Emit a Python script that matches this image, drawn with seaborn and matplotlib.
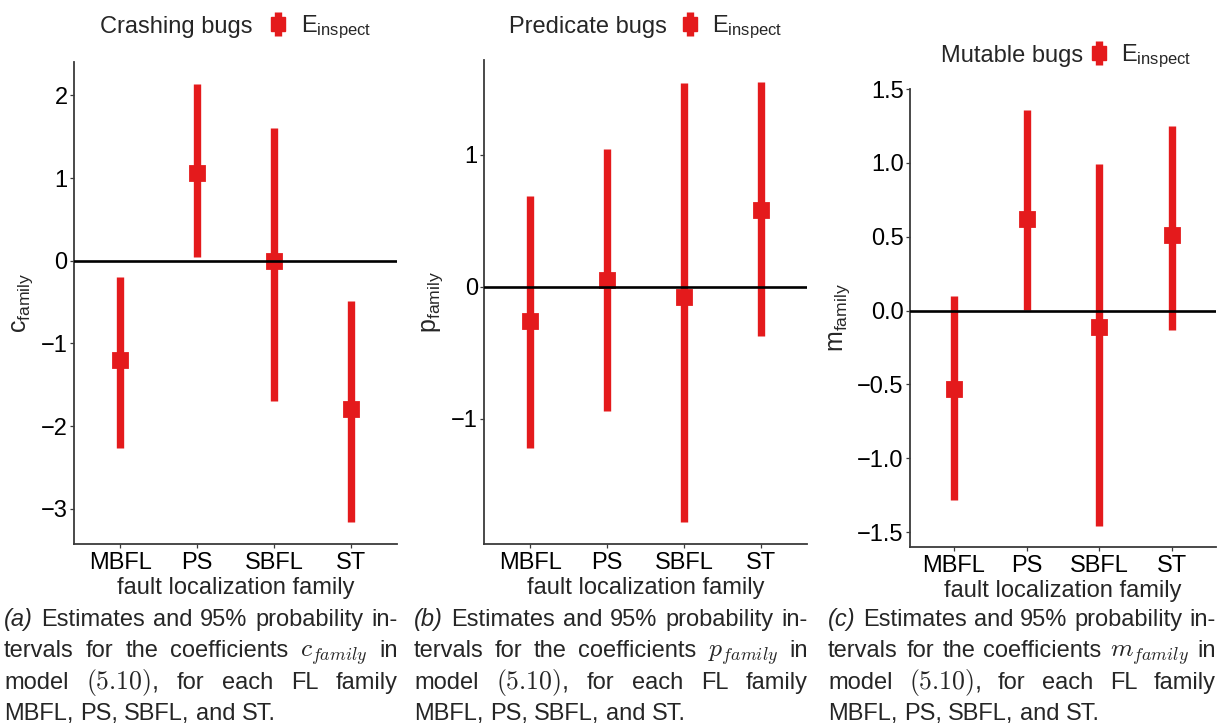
import matplotlib
matplotlib.use("Agg")
import matplotlib.pyplot as plt
import seaborn as sns
import pandas as pd
from matplotlib.lines import Line2D
from matplotlib.legend_handler import HandlerTuple

families = ["MBFL", "PS", "SBFL", "ST"]

# estimates and 95% probability intervals
crash_est = [-1.20, 1.06, 0.00, -1.79]
crash_lo = [-2.26, 0.04, -1.69, -3.16]
crash_hi = [-0.20, 2.14, 1.60, -0.49]

pred_est = [-0.26, 0.055, -0.08, 0.58]
pred_lo = [-1.22, -0.94, -1.78, -0.37]
pred_hi = [0.69, 1.04, 1.54, 1.55]

mut_est = [-0.53, 0.62, -0.11, 0.515]
mut_lo = [-1.28, 0.005, -1.46, -0.13]
mut_hi = [0.10, 1.36, 0.99, 1.25]

RED = "#E41A1C"
FS = 17

sns.set_style("white")
plt.rcParams["font.family"] = ["Liberation Sans", "DejaVu Sans"]
plt.rcParams["mathtext.fontset"] = "custom"
plt.rcParams["mathtext.rm"] = "Liberation Sans"
plt.rcParams["mathtext.it"] = "Liberation Sans:italic"

fig = plt.figure(figsize=(12.19, 7.26), dpi=100)

panels = [
    dict(est=crash_est, lo=crash_lo, hi=crash_hi, title="Crashing bugs", sym="c",
         rect=[0.0607, 0.2507, 0.265, 0.664], yticks=[-3, -2, -1, 0, 1, 2], fmt="{:g}",
         ttl=(0.082, 0.9628), leg=(0.2185, 0.9628), tag="(a)"),
    dict(est=pred_est, lo=pred_lo, hi=pred_hi, title="Predicate bugs", sym="p",
         rect=[0.3971, 0.2507, 0.265, 0.6667], yticks=[-1, 0, 1], fmt="{:g}",
         ttl=(0.4176, 0.9628), leg=(0.556, 0.9628), tag="(b)"),
    dict(est=mut_est, lo=mut_lo, hi=mut_hi, title="Mutable bugs", sym="m",
         rect=[0.7465, 0.2466, 0.2510, 0.6308], yticks=[-1.5, -1.0, -0.5, 0.0, 0.5, 1.0, 1.5],
         fmt="{:.1f}", ttl=(0.772, 0.9229), leg=(0.8915, 0.9229), tag="(c)"),
]


def interval(v):
    return (v.min(), v.max())


for p in panels:
    ax = fig.add_axes(p["rect"])
    df = pd.DataFrame({
        "family": families * 3,
        "value": p["lo"] + p["est"] + p["hi"],
    })
    sns.pointplot(data=df, x="family", y="value", order=families,
                  estimator="median", errorbar=interval, color=RED,
                  marker="s", markersize=10, linestyle="none",
                  err_kws={"linewidth": 5.3, "solid_capstyle": "butt"}, ax=ax)
    ax.axhline(0, color="black", lw=1.9, zorder=5)

    lo = min(p["lo"]); hi = max(p["hi"])
    pad = (hi - lo) * 0.05
    ax.set_ylim(lo - pad, hi + pad)
    ax.set_xlim(-0.6, 3.6)
    ax.set_yticks(p["yticks"])
    ax.set_yticklabels([p["fmt"].format(t).replace("-", "\u2212") for t in p["yticks"]])

    for s in ["top", "right"]:
        ax.spines[s].set_visible(False)
    for s in ["left", "bottom"]:
        ax.spines[s].set_color("#3a3a3a")
        ax.spines[s].set_linewidth(1.3)
    ax.tick_params(axis="both", direction="out", length=3, width=0.9,
                   color="#3a3a3a", labelsize=FS, labelcolor="black",
                   left=True, bottom=True)
    ax.tick_params(axis="x", pad=3)
    ax.tick_params(axis="y", pad=1.5)
    ax.set_xlabel("fault localization family", fontsize=FS, labelpad=2)
    ax.set_ylabel(p["sym"] + r"$_{\mathrm{family}}$", fontsize=FS + 1, labelpad=4)

    fig.text(p["ttl"][0], p["ttl"][1], p["title"], fontsize=FS,
             ha="left", va="center")
    bar = Line2D([], [], color=RED, marker="|", markersize=17,
                 markeredgewidth=5.3, linestyle="none")
    sq = Line2D([], [], color=RED, marker="s", markersize=10, linestyle="none")
    ax.legend(handles=[(bar, sq)], labels=[r"E$_{\mathrm{inspect}}$"],
              handler_map={tuple: HandlerTuple(ndivide=1)},
              loc="center left", bbox_to_anchor=p["leg"],
              bbox_transform=fig.transFigure, frameon=False, borderpad=0,
              borderaxespad=0, handlelength=1.0, handletextpad=0.45,
              fontsize=FS)

# captions, justified like the LaTeX subcaptions
renderer = fig.canvas.get_renderer()
W = fig.get_figwidth() * fig.dpi
H = fig.get_figheight() * fig.dpi
sans = dict(fontsize=FS)
ital = dict(fontsize=FS, style="italic")
serif = dict(fontsize=FS + 1.5, math_fontfamily="cm")
cap_x = [(4, 398), (414, 808), (828, 1216)]
baselines = [626, 657, 689, 720]

for p, (x0, x1) in zip(panels, cap_x):
    lines = [
        [(p["tag"], ital), ("Estimates", sans), ("and", sans), ("95%", sans),
         ("probability", sans), ("in-", sans)],
        [("tervals", sans), ("for", sans), ("the", sans), ("coefficients", sans),
         ("$" + p["sym"] + "_{family}$", serif), ("in", sans)],
        [("model", sans), ("$(5.10)$,", serif), ("for", sans), ("each", sans),
         ("FL", sans), ("family", sans)],
        [("MBFL,", sans), ("PS,", sans), ("SBFL,", sans), ("and", sans), ("ST.", sans)],
    ]
    for i, words in enumerate(lines):
        y = 1 - baselines[i] / H
        arts = [fig.text(0, y, w, ha="left", va="baseline", **st)
                for w, st in words]
        widths = [a.get_window_extent(renderer).width for a in arts]
        if i < len(lines) - 1:
            gap = (x1 - x0 - sum(widths)) / (len(arts) - 1)
        else:
            gap = 0.278 * FS * fig.dpi / 72
        x = x0
        for a, w in zip(arts, widths):
            a.set_x(x / W)
            x += w + gap

fig.savefig("out.png", dpi=100)
